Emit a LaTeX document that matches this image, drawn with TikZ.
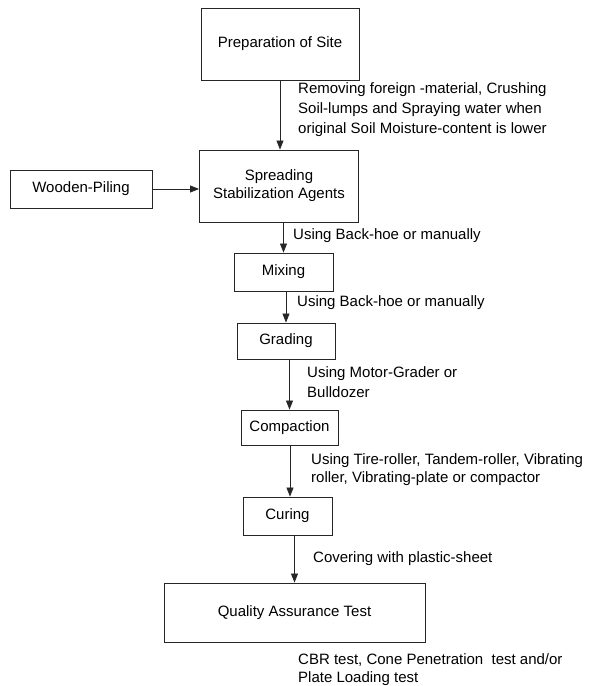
\documentclass[tikz,border=0pt]{standalone}
\usepackage{fontspec}
\setmainfont{Liberation Sans}
\usetikzlibrary{arrows.meta}
\begin{document}
\begin{tikzpicture}[x=1pt,y=-1pt,
  box/.style={draw=black!85,line width=0.9pt,inner sep=0pt,align=center,font=\fontsize{15}{18}\selectfont},
  lbl/.style={anchor=base west,inner sep=0pt,align=left,font=\fontsize{15}{20}\selectfont},
  arr/.style={draw=black!85,line width=0.8pt,-{Triangle[length=9pt,width=7pt]}}]
\useasboundingbox[fill=white] (0,0) rectangle (590,686);
\node[box,minimum width=158pt,minimum height=72pt] (prep) at (280,44) {Preparation of Site};
\node[box,minimum width=159pt,minimum height=72pt] (spread) at (279,186) {Spreading\\Stabilization Agents};
\node[box,minimum width=142pt,minimum height=38pt] (wood) at (81,189) {Wooden-Piling};
\node[box,minimum width=99pt,minimum height=38pt] (mix) at (283.5,272) {Mixing};
\node[box,minimum width=98pt,minimum height=36pt] (grad) at (286,341) {Grading};
\node[box,minimum width=97pt,minimum height=35pt] (comp) at (289.5,427.5) {Compaction};
\node[box,minimum width=89pt,minimum height=38pt] (cur) at (287.5,516) {Curing};
\node[box,minimum width=261pt,minimum height=59pt] (qa) at (294.5,612.5) {Quality Assurance Test};

\draw[arr] (prep.south) -- (prep.south |- spread.north);
\draw[arr] (wood.east) -- (wood.east -| spread.west);
\draw[arr] (mix.north |- spread.south) -- (mix.north);
\draw[arr] (grad.north |- mix.south) -- (grad.north);
\draw[arr] (comp.north |- grad.south) -- (comp.north);
\draw[arr] (comp.south) ++(0.5,0) coordinate (cs) -- (cs |- cur.north);
\draw[arr] (qa.north |- cur.south) -- (qa.north);

\node[lbl] (l1) at (298,133) {Removing foreign -material, Crushing\\Soil-lumps and Spraying water when\\original Soil Moisture-content is lower};
\node[lbl] (l2) at (293,239) {Using Back-hoe or manually};
\node[lbl] (l3) at (297,306) {Using Back-hoe or manually};
\node[lbl] (l4) at (307,397) {Using Motor-Grader or\\Bulldozer};
\node[lbl,font=\fontsize{15}{17.5}\selectfont] (l5) at (311,482) {Using Tire-roller, Tandem-roller, Vibrating\\roller, Vibrating-plate or compactor};
\node[lbl] (l6) at (313,562) {Covering with plastic-sheet};
\node[lbl,font=\fontsize{15}{18}\selectfont] (l7) at (298,682) {CBR test, Cone Penetration\ \ test and/or\\Plate Loading test};
\end{tikzpicture}
\end{document}
